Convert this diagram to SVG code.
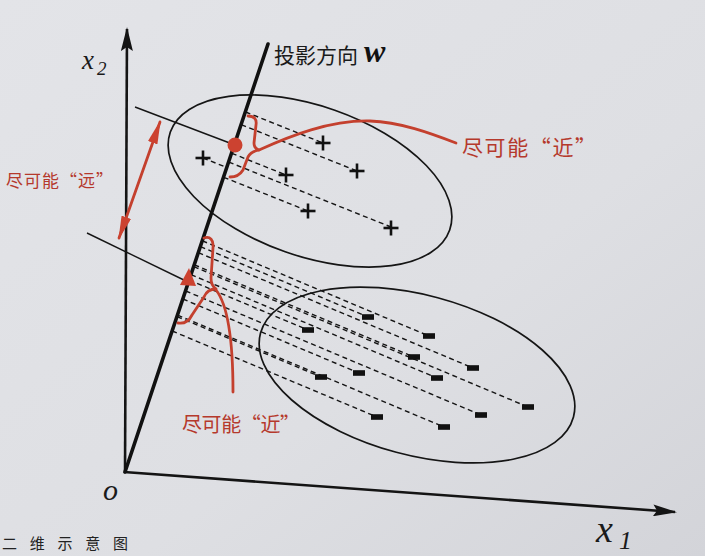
<svg xmlns="http://www.w3.org/2000/svg" width="705" height="556" viewBox="0 0 705 556">
<defs>
<style>
.axis{stroke:#141414;stroke-width:2.6;fill:none}
.wline{stroke:#111;stroke-width:3.6;fill:none;stroke-linecap:round}
.ell{stroke:#151515;stroke-width:1.7;fill:none}
.thin{stroke:#151515;stroke-width:1.4;fill:none}
.dash{stroke:#151515;stroke-width:1.4;fill:none;stroke-dasharray:5 3.5}
.red{stroke:#c4402e;stroke-width:2.8;fill:none;stroke-linecap:round;stroke-linejoin:round}
.redfill{fill:#cc4230}
.cjk{font-family:"Noto Sans CJK SC","Noto Sans CJK JP",sans-serif}
.rtxt{fill:#b5392c}
.math{font-family:"Liberation Serif","DejaVu Serif",serif;font-style:italic;fill:#1a1a1a}
.plus{stroke:#111;stroke-width:2.6}
</style>
<linearGradient id="bg" x1="0" y1="0" x2="1" y2="1">
<stop offset="0" stop-color="#e3e4e8"/>
<stop offset="0.6" stop-color="#dedfe3"/>
<stop offset="1" stop-color="#d3d4d9"/>
</linearGradient>
<marker id="ah" viewBox="0 0 24 12" refX="22" refY="6" markerWidth="24" markerHeight="12" markerUnits="userSpaceOnUse" orient="auto">
<path d="M0,0 L24,6 L0,12 L4,6 Z" fill="#141414"/>
</marker>
<marker id="rah" viewBox="0 0 24 10" refX="22" refY="5" markerWidth="24" markerHeight="10" markerUnits="userSpaceOnUse" orient="auto-start-reverse">
<path d="M0,0 L24,5 L0,10 Z" fill="#cc4230"/>
</marker>
<g id="pl"><line class="plus" x1="-7.5" y1="0" x2="7.5" y2="0"/><line class="plus" x1="0" y1="-7.5" x2="0" y2="7.5"/></g>
<rect id="mn" x="-6" y="-2.8" width="12" height="5.6" fill="#111"/>
</defs>
<rect width="705" height="556" fill="url(#bg)"/>

<g id="connectors">
<line class="dash" x1="245.6" y1="112" x2="323" y2="143"/>
<line class="dash" x1="241.3" y1="124.7" x2="357" y2="171"/>
<line class="dash" x1="231.8" y1="153.3" x2="286" y2="175"/>
<line class="dash" x1="203" y1="158" x2="227" y2="167.6"/>
<line class="dash" x1="223.7" y1="177.3" x2="308" y2="211"/>
<line class="dash" x1="228.8" y1="162.1" x2="391" y2="227"/>
<line class="dash" x1="200.5" y1="246.6" x2="368" y2="317"/>
<line class="dash" x1="189.3" y1="280.1" x2="308" y2="330"/>
<line class="dash" x1="202.4" y1="240.8" x2="429" y2="336"/>
<line class="dash" x1="194.4" y1="264.8" x2="414" y2="357"/>
<line class="dash" x1="198.4" y1="252.7" x2="473" y2="368"/>
<line class="dash" x1="177.1" y1="316.6" x2="321" y2="377"/>
<line class="dash" x1="182.9" y1="299" x2="359" y2="373"/>
<line class="dash" x1="191.1" y1="274.7" x2="437" y2="378"/>
<line class="dash" x1="193.8" y1="266.6" x2="528" y2="407"/>
<line class="dash" x1="185.7" y1="291" x2="481" y2="415"/>
<line class="dash" x1="172.2" y1="331" x2="377" y2="417"/>
<line class="dash" x1="177.6" y1="315.1" x2="444" y2="427"/>
<line class="thin" x1="135" y1="107" x2="235" y2="145"/>
<line class="thin" x1="87" y1="233" x2="188" y2="282"/>
</g>

<g id="axes">
<line class="axis" x1="125" y1="473" x2="127" y2="29" marker-end="url(#ah)"/>
<line class="axis" x1="124" y1="472" x2="675" y2="512" marker-end="url(#ah)"/>
<text class="math" x="82" y="69" font-size="27">x</text>
<text class="math" x="97" y="75" font-size="19" font-style="normal">2</text>
<text class="math" x="596" y="542" font-size="38">x</text>
<text class="math" x="619" y="549" font-size="26" font-style="normal">1</text>
<text class="math" x="103" y="500" font-size="30">o</text>
</g>

<g id="class-positive">
<ellipse class="ell" cx="310" cy="181" rx="148" ry="75" transform="rotate(19.3 310 181)"/>
<use href="#pl" x="323" y="143"/>
<use href="#pl" x="357" y="171"/>
<use href="#pl" x="286" y="175"/>
<use href="#pl" x="203" y="158"/>
<use href="#pl" x="308" y="211"/>
<use href="#pl" x="391" y="228"/>
</g>

<g id="class-negative">
<ellipse class="ell" cx="417" cy="375" rx="162" ry="80" transform="rotate(15 417 375)"/>
<use href="#mn" x="368" y="317"/>
<use href="#mn" x="308" y="330"/>
<use href="#mn" x="429" y="336"/>
<use href="#mn" x="414" y="357"/>
<use href="#mn" x="473" y="368"/>
<use href="#mn" x="321" y="377"/>
<use href="#mn" x="359" y="373"/>
<use href="#mn" x="437" y="378"/>
<use href="#mn" x="528" y="407"/>
<use href="#mn" x="481" y="415"/>
<use href="#mn" x="377" y="417"/>
<use href="#mn" x="444" y="427"/>
</g>

<g id="projection-w">
<line class="wline" x1="125" y1="472" x2="268" y2="44"/>
<text class="cjk" x="274" y="63" font-size="21" fill="#1a1a1a">投影方向</text>
<text x="364" y="62" font-size="32" font-family="Liberation Serif,serif" font-style="italic" font-weight="bold" fill="#111">w</text>
</g>

<g id="centre-positive">
<circle class="redfill" cx="235" cy="145" r="7.5"/>
</g>
<g id="centre-negative">
<polygon class="redfill" points="189,268 180,285 196,286"/>
</g>

<g id="within-upper">
<path class="red" d="M 248,116 C 254,116 257,119 256,125 L 254,143 C 254,147 256,149 259,150 C 254,151 250,153 248,157 L 243,170 C 240,175 236,177 230,177"/>
<path class="red" d="M 259,150 C 290,136 330,120 370,121 C 400,122 430,133 456,143"/>
<text class="cjk rtxt" x="462" y="155" font-size="21" textLength="134" lengthAdjust="spacing">尽可能“近”</text>
</g>

<g id="within-lower">
<path class="red" d="M 204,238 C 210,236 214,240 213,248 L 211,278 C 211,284 213,287 216,289 C 210,289 206,292 204,297 L 192,315 C 189,321 184,324 178,323"/>
<path class="red" d="M 216,290 C 228,305 233,340 233,392"/>
<text class="cjk rtxt" x="182" y="432" font-size="20" textLength="118" lengthAdjust="spacing">尽可能“近”</text>
</g>

<g id="between">
<line class="red" x1="160" y1="122" x2="119" y2="238" marker-start="url(#rah)" marker-end="url(#rah)"/>
<text class="cjk rtxt" x="6" y="187" font-size="17" textLength="107" lengthAdjust="spacing">尽可能“远”</text>
</g>

<text class="cjk" x="2" y="549" font-size="15" textLength="126" lengthAdjust="spacing" fill="#222">二维示意图</text>
</svg>
